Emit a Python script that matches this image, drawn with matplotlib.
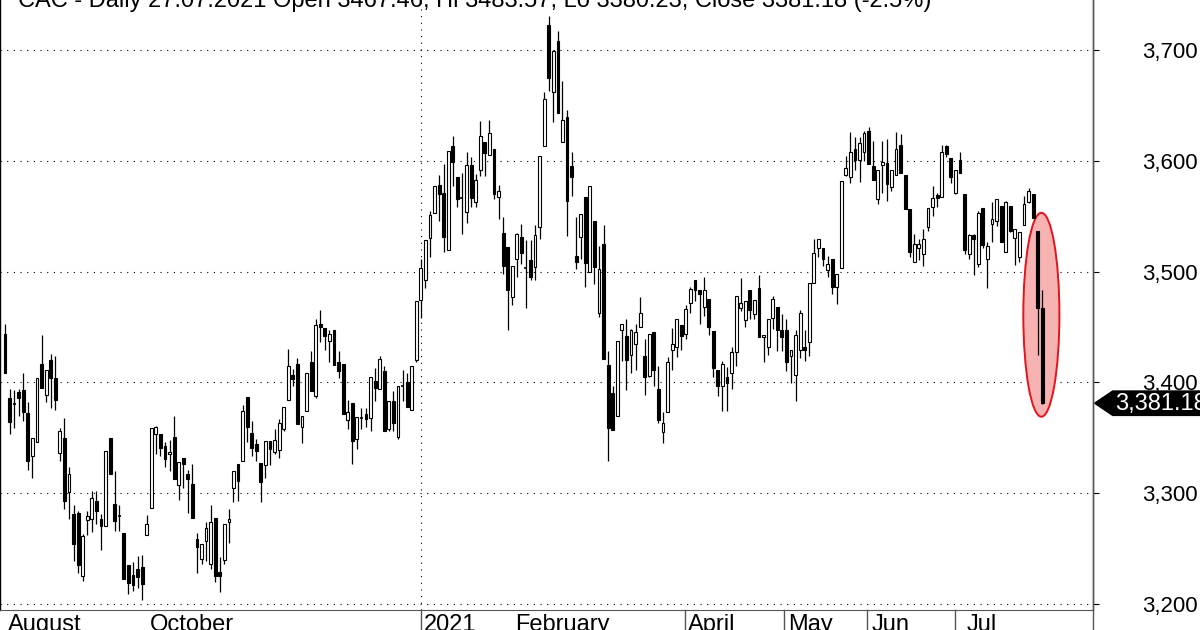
import matplotlib
matplotlib.use("Agg")
import matplotlib.pyplot as plt
from matplotlib.patches import Ellipse, Polygon
from matplotlib.ticker import FuncFormatter

plt.rcParams['font.family'] = ['Liberation Sans', 'DejaVu Sans']

# daily OHLC (oldest first)
opens = [3444, 3386, 3381, 3391, 3393, 3372, 3334, 3346, 3417, 3389, 3420, 3404, 3336, 3350, 3301, 3281,
         3282, 3225, 3276, 3277, 3293, 3277, 3270, 3350, 3290, 3279, 3264, 3235, 3226, 3232, 3233, 3262,
         3287, 3353, 3353, 3343, 3335, 3351, 3307, 3332, 3317, 3308, 3259, 3241, 3257, 3236, 3278, 3229,
         3240, 3274, 3305, 3326, 3329, 3387, 3354, 3344, 3327, 3325, 3347, 3337, 3339, 3358, 3384, 3407,
         3417, 3360, 3374, 3418, 3388, 3453, 3449, 3437, 3447, 3418, 3417, 3366, 3381, 3349, 3368, 3371,
         3368, 3401, 3394, 3410, 3358, 3383, 3351, 3397, 3400, 3375, 3420, 3474, 3492, 3530, 3553, 3578,
         3571, 3519, 3613, 3585, 3566, 3554, 3596, 3563, 3592, 3617, 3605, 3611, 3567, 3535, 3522, 3477,
         3511, 3531, 3503, 3510, 3504, 3540, 3613, 3722, 3662, 3708, 3617, 3639, 3595, 3514, 3531, 3567,
         3500, 3546, 3463, 3525, 3416, 3390, 3370, 3447, 3442, 3425, 3435, 3450, 3424, 3406, 3445, 3394,
         3355, 3373, 3429, 3432, 3452, 3444, 3472, 3492, 3483, 3468, 3475, 3446, 3411, 3397, 3405, 3408,
         3427, 3467, 3456, 3483, 3462, 3485, 3441, 3432, 3458, 3468, 3447, 3447, 3424, 3407, 3429, 3432,
         3436, 3490, 3521, 3521, 3501, 3511, 3486, 3503, 3587, 3585, 3611, 3601, 3608, 3627, 3595, 3565,
         3596, 3598, 3576, 3587, 3614, 3587, 3556, 3509, 3521, 3516, 3540, 3558, 3569, 3567, 3613, 3602,
         3571, 3601, 3570, 3516, 3533, 3507, 3557, 3511, 3543, 3546, 3559, 3518, 3559, 3530, 3513, 3542,
         3563, 3570, 3537, 3467.46]
highs = [3453, 3394, 3393, 3394, 3408, 3382, 3350, 3404, 3443, 3411, 3426, 3424, 3359, 3368, 3324, 3289,
         3284, 3263, 3284, 3302, 3302, 3281, 3338, 3350, 3320, 3289, 3264, 3235, 3238, 3243, 3244, 3280,
         3359, 3361, 3353, 3346, 3348, 3370, 3328, 3332, 3321, 3326, 3264, 3254, 3274, 3289, 3278, 3242,
         3272, 3286, 3320, 3326, 3380, 3387, 3365, 3349, 3327, 3347, 3347, 3358, 3367, 3378, 3430, 3412,
         3422, 3370, 3408, 3428, 3457, 3465, 3449, 3447, 3447, 3428, 3417, 3384, 3381, 3369, 3377, 3377,
         3405, 3413, 3424, 3415, 3383, 3392, 3397, 3411, 3408, 3415, 3473, 3511, 3528, 3555, 3577, 3587,
         3597, 3609, 3622, 3585, 3589, 3608, 3603, 3588, 3636, 3617, 3637, 3611, 3578, 3549, 3522, 3505,
         3535, 3543, 3528, 3528, 3542, 3604, 3662, 3731, 3700, 3717, 3672, 3646, 3608, 3549, 3552, 3567,
         3577, 3546, 3523, 3542, 3428, 3397, 3437, 3453, 3457, 3448, 3453, 3477, 3439, 3444, 3445, 3415,
         3373, 3423, 3449, 3457, 3452, 3470, 3486, 3492, 3483, 3495, 3475, 3446, 3411, 3419, 3414, 3432,
         3478, 3494, 3473, 3483, 3474, 3497, 3443, 3457, 3478, 3468, 3462, 3457, 3429, 3447, 3465, 3447,
         3490, 3529, 3529, 3521, 3514, 3511, 3498, 3582, 3604, 3626, 3621, 3621, 3627, 3630, 3618, 3592,
         3618, 3620, 3592, 3626, 3624, 3587, 3556, 3534, 3529, 3538, 3557, 3577, 3571, 3614, 3614, 3602,
         3592, 3608, 3570, 3534, 3534, 3555, 3557, 3527, 3563, 3565, 3559, 3564, 3559, 3538, 3536, 3568,
         3575, 3570, 3537, 3483.57]
lows = [3408, 3353, 3359, 3370, 3365, 3321, 3314, 3346, 3395, 3382, 3377, 3375, 3329, 3286, 3277, 3239,
        3228, 3221, 3262, 3265, 3272, 3249, 3270, 3317, 3266, 3266, 3223, 3209, 3212, 3214, 3204, 3262,
        3287, 3335, 3334, 3324, 3320, 3313, 3294, 3305, 3282, 3278, 3228, 3236, 3239, 3232, 3220, 3211,
        3236, 3255, 3292, 3293, 3329, 3346, 3334, 3329, 3292, 3314, 3325, 3335, 3332, 3356, 3384, 3397,
        3362, 3345, 3374, 3392, 3386, 3436, 3429, 3418, 3416, 3404, 3371, 3358, 3326, 3340, 3358, 3360,
        3356, 3383, 3394, 3356, 3356, 3356, 3349, 3383, 3378, 3375, 3418, 3458, 3485, 3513, 3553, 3546,
        3518, 3519, 3577, 3558, 3534, 3544, 3558, 3558, 3586, 3586, 3605, 3565, 3547, 3498, 3447, 3470,
        3495, 3507, 3467, 3492, 3492, 3529, 3613, 3663, 3635, 3643, 3617, 3532, 3568, 3502, 3511, 3486,
        3500, 3489, 3459, 3421, 3329, 3357, 3370, 3419, 3393, 3408, 3411, 3450, 3389, 3405, 3397, 3363,
        3345, 3373, 3411, 3423, 3429, 3439, 3463, 3473, 3453, 3460, 3443, 3405, 3388, 3374, 3374, 3394,
        3415, 3464, 3450, 3457, 3457, 3441, 3418, 3425, 3448, 3428, 3428, 3410, 3399, 3383, 3422, 3419,
        3424, 3490, 3513, 3505, 3495, 3480, 3471, 3503, 3586, 3580, 3592, 3581, 3600, 3597, 3583, 3561,
        3571, 3564, 3573, 3587, 3589, 3556, 3513, 3509, 3510, 3505, 3537, 3550, 3558, 3567, 3603, 3580,
        3570, 3589, 3516, 3511, 3497, 3504, 3521, 3485, 3527, 3541, 3527, 3518, 3536, 3506, 3509, 3542,
        3562, 3548, 3425, 3380.23]
closes = [3408, 3364, 3380, 3386, 3373, 3329, 3350, 3404, 3395, 3411, 3404, 3384, 3356, 3293, 3317, 3254,
          3235, 3261, 3279, 3296, 3284, 3270, 3338, 3317, 3275, 3279, 3223, 3219, 3217, 3224, 3218, 3272,
          3359, 3360, 3341, 3331, 3337, 3313, 3328, 3326, 3313, 3278, 3251, 3254, 3269, 3274, 3225, 3225,
          3272, 3277, 3320, 3311, 3374, 3360, 3341, 3338, 3310, 3347, 3340, 3348, 3363, 3378, 3415, 3403,
          3362, 3370, 3408, 3392, 3452, 3450, 3442, 3444, 3416, 3410, 3371, 3373, 3347, 3369, 3367, 3367,
          3405, 3395, 3421, 3356, 3383, 3363, 3397, 3396, 3378, 3415, 3473, 3503, 3528, 3551, 3577, 3570,
          3531, 3609, 3599, 3565, 3566, 3596, 3566, 3583, 3622, 3607, 3625, 3570, 3573, 3505, 3483, 3505,
          3534, 3517, 3503, 3495, 3533, 3604, 3656, 3675, 3699, 3643, 3637, 3564, 3585, 3509, 3552, 3508,
          3577, 3504, 3502, 3421, 3359, 3357, 3437, 3453, 3420, 3447, 3445, 3463, 3405, 3444, 3411, 3366,
          3363, 3418, 3435, 3457, 3442, 3466, 3484, 3483, 3480, 3483, 3450, 3413, 3397, 3417, 3399, 3427,
          3478, 3472, 3473, 3465, 3474, 3441, 3443, 3457, 3475, 3447, 3441, 3418, 3429, 3443, 3463, 3429,
          3490, 3517, 3529, 3511, 3507, 3486, 3498, 3582, 3593, 3608, 3601, 3616, 3625, 3597, 3583, 3592,
          3599, 3579, 3592, 3611, 3589, 3556, 3518, 3525, 3525, 3529, 3557, 3566, 3566, 3608, 3606, 3585,
          3592, 3589, 3519, 3533, 3529, 3553, 3524, 3523, 3547, 3565, 3527, 3563, 3537, 3538, 3536, 3561,
          3573, 3548, 3467, 3381.18]

title = "CAC - Daily 27.07.2021 Open 3467.46, Hi 3483.57, Lo 3380.23, Close 3381.18 (-2.5%)"
yticks = [3200, 3300, 3400, 3500, 3600, 3700]
# month labels (bar index where the text starts) and month separators
month_pos = [0.7, 31.7, 91.7, 111.6, 149.5, 171.3, 189.7, 210.5]
month_txt = ["August", "October", "2021", "February", "April", "May", "Jun", "Jul"]
sep_pos = [91.1, 148.8, 170.5, 188.7, 208.0]

W, H = 1200, 630
fig = plt.figure(figsize=(W / 100, H / 100), dpi=100)
ax = fig.add_axes([0, 1 - 610 / H, 1093 / W, 610 / H])

n = len(closes)
xs = list(range(n))
for i in xs:
    o, h, l, c = opens[i], highs[i], lows[i], closes[i]
    ax.vlines(i, l, h, color='black', lw=0.9, zorder=3)
    lo_b, hi_b = min(o, c), max(o, c)
    if hi_b - lo_b < 1.2:
        ax.hlines((o + c) / 2, i - 0.33, i + 0.33, color='black', lw=1.2, zorder=4)
        continue
    fc = 'black' if c < o else 'white'
    ax.bar(i, hi_b - lo_b, bottom=lo_b, width=0.62, facecolor=fc,
           edgecolor='black', linewidth=0.8, zorder=4)

# red highlight round the last two sessions
ell = Ellipse((n - 1.2, 3461), 7.9, 184, facecolor='#f7b2b2', edgecolor='#e3141b',
              lw=1.4, zorder=2)
ax.add_patch(ell)

ax.set_xlim(-1.1, 238.1)
ax.set_ylim(3194.6, 3745)

ax.yaxis.tick_right()
ax.set_yticks(yticks)
ax.yaxis.set_major_formatter(FuncFormatter(lambda v, p: f"{int(v):,}"))
ax.tick_params(axis='y', length=4, width=0.8, pad=31, labelsize=16, colors='black')
ax.set_xticks([])
ax.grid(axis='y', linestyle=(0, (1, 5)), color='black', lw=0.8)
ax.axvline(91.1, linestyle=(0, (1, 5)), color='black', lw=0.8, zorder=1)

ax.spines['top'].set_visible(False)
ax.spines['left'].set_linewidth(1.0)
ax.spines['right'].set_linewidth(1.0)
ax.spines['right'].set_color('#555555')
ax.spines['bottom'].set_color('#555555')

# right spine continues into the label strip
fig.add_artist(plt.Line2D([1093 / W, 1093 / W], [0, 1], color='#555555', lw=1.0))

# last price tag
yl = closes[-1]
tag = Polygon([(1.0015, yl), (1.018, yl + 11), (1.12, yl + 11), (1.12, yl - 11), (1.018, yl - 11)],
              closed=True, facecolor='black', edgecolor='black',
              transform=ax.get_yaxis_transform(), clip_on=False, zorder=6)
ax.add_patch(tag)
ax.text(1.02, yl - 0.5, f"{yl:,.2f}", transform=ax.get_yaxis_transform(), color='white',
        fontsize=17, va='center', ha='left', clip_on=False, zorder=7)

# month labels in the strip below
def px(i):
    return ax.transData.transform((i, 0))[0] / W

for p, t in zip(month_pos, month_txt):
    fig.text(px(p), 1 - 614 / H, t, fontsize=17, va='top', ha='left')
for p in sep_pos:
    fig.add_artist(plt.Line2D([px(p), px(p)], [0, 1 - 610 / H], color='#555555', lw=1.0))

fig.text(18 / W, 1 - 7 / H, title, fontsize=17, va='baseline', ha='left')

fig.savefig("out.png", dpi=100)
